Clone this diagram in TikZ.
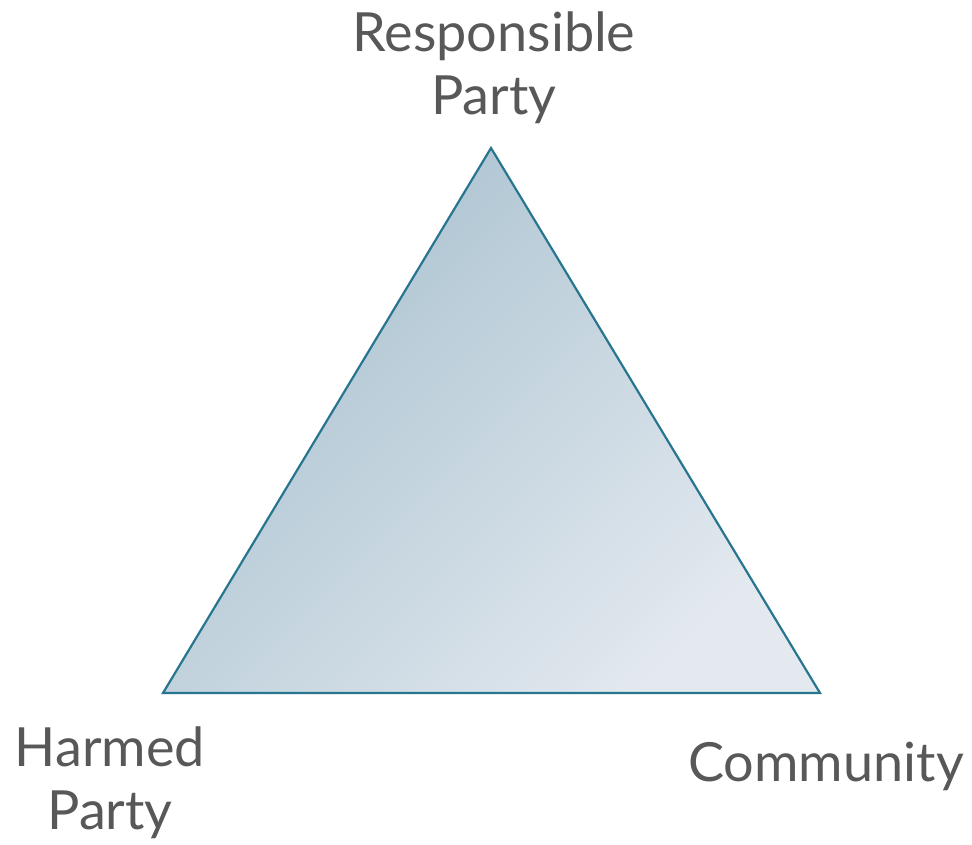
\documentclass[tikz,border=0pt]{standalone}
\usepackage{fontspec}
\setmainfont{Lato}
\definecolor{edgeteal}{HTML}{287590}
\definecolor{shadetop}{HTML}{A8C1CF}
\definecolor{shadebot}{HTML}{E3E9EF}
\definecolor{labelgray}{HTML}{585858}
\tikzset{corner/.style={font=\fontsize{54}{63}\selectfont, text=labelgray,
    align=center, inner sep=0pt}}
\begin{document}
\begin{tikzpicture}[x=1pt,y=-1pt]
  \useasboundingbox (0,0) rectangle (972,844);
  \coordinate (top) at (491,148); \coordinate (left) at (163,693);
  \coordinate (right) at (820,693);
  \draw[edgeteal, line width=2.2pt, top color=shadetop, bottom color=shadebot,
    shading angle=45] (top) -- (left) -- (right) -- cycle;
  \node[corner] (resp) at (494,68) {Responsible\\Party};
  \node[corner] (harmed) at (110,783) {Harmed\\Party};
  \node[corner] (comm) at (826,766) {Community};
\end{tikzpicture}
\end{document}
